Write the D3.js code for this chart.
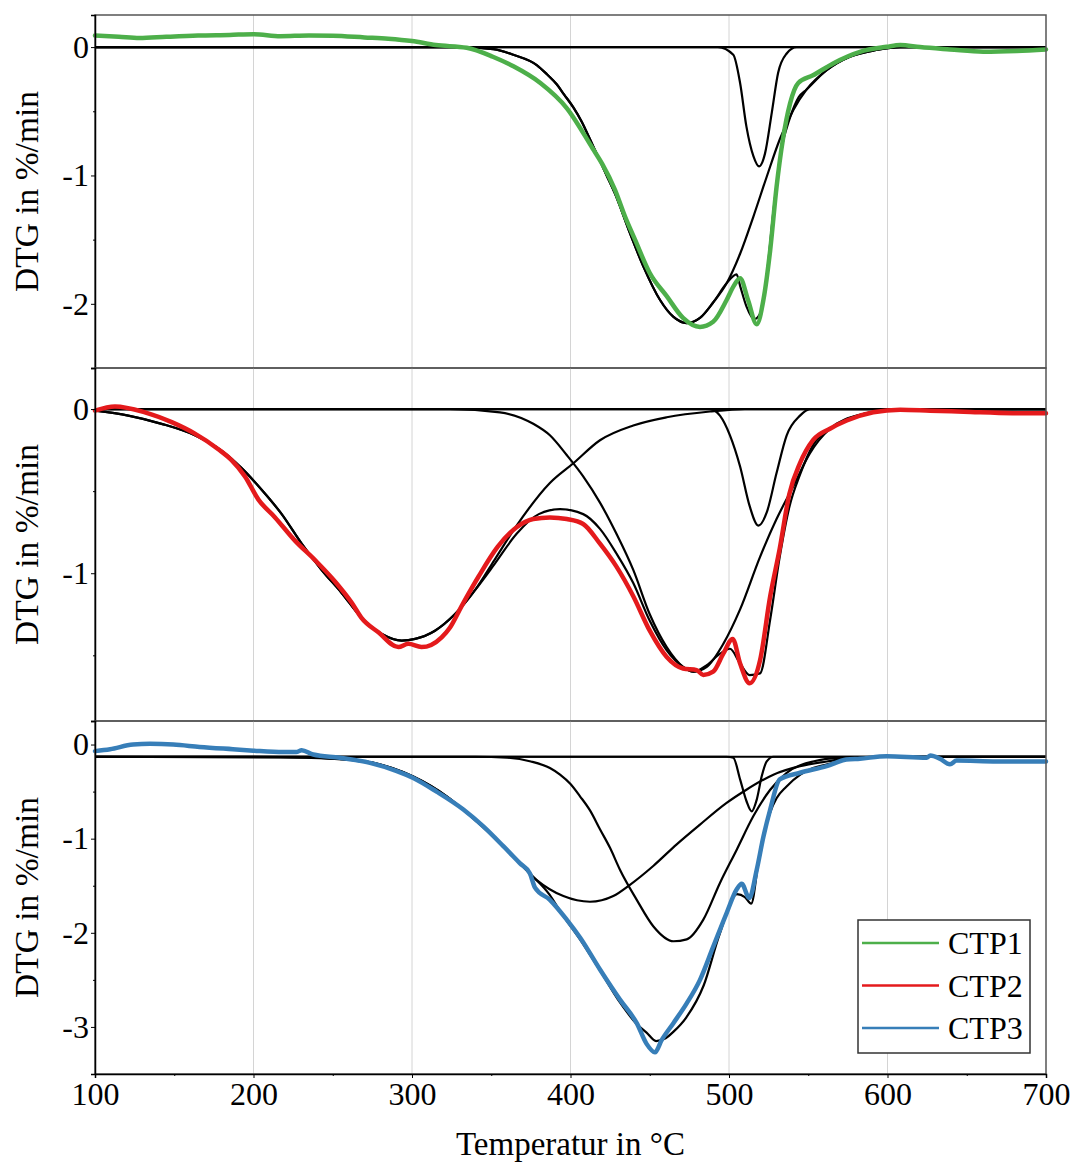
<html>
<head>
  <title>DTG CTP</title>
  <script src="https://d3js.org/d3.v7.min.js"></script>
  <style type="text/css">
    body { margin: 0; background: #fff; }
    text { font-family: "Liberation Serif", "Times New Roman", serif; fill: #000; }
  </style>
</head>
<body>
  <svg id="chart" width="1077" height="1164"></svg>

  <script type="text/javascript">

    // measured curves, [temperature, DTG]
    var ctp1 = [[100,0.09],[115,0.08],[128,0.07],[145,0.08],[165,0.09],[185,0.095],[200,0.10],[217,0.085],[235,0.09],[250,0.088],[270,0.075],[285,0.065],[300,0.047],[315,0.016],[334.5,-0.005],[351,-0.075],[364,-0.15],[381,-0.28],[397.6,-0.475],[414,-0.79],[420,-0.91],[428,-1.11],[434.4,-1.32],[440.7,-1.5],[450,-1.76],[460.7,-1.94],[471,-2.11],[481.7,-2.18],[490,-2.14],[498.5,-1.97],[503,-1.86],[507,-1.8],[512,-1.97],[517.5,-2.16],[521.7,-1.97],[526,-1.58],[530,-1.09],[534,-0.72],[538.5,-0.44],[543.7,-0.28],[553,-0.22],[566,-0.125],[582.6,-0.037],[599.5,0.002],[608,0.016],[620.5,0],[639.4,-0.018],[660.4,-0.036],[681.5,-0.03],[700,-0.018]];
    var ctp2 = [[100,-0.01],[112.6,0.016],[131.5,-0.02],[148.4,-0.08],[163,-0.15],[177.8,-0.245],[186,-0.31],[194.6,-0.41],[203,-0.55],[213.6,-0.66],[226,-0.8],[238.8,-0.92],[251.4,-1.05],[262,-1.18],[268,-1.27],[278.8,-1.36],[291.4,-1.45],[297.7,-1.43],[306,-1.45],[318.7,-1.39],[324,-1.33],[331.3,-1.2],[342,-1.02],[354,-0.84],[366,-0.72],[376.5,-0.67],[387,-0.66],[397.6,-0.67],[408,-0.7],[418.6,-0.82],[429,-0.96],[439.6,-1.14],[450,-1.35],[460.7,-1.51],[471,-1.58],[479.6,-1.59],[483.8,-1.62],[490,-1.6],[496.4,-1.49],[502.3,-1.4],[507,-1.55],[513,-1.67],[519.6,-1.53],[526,-1.14],[532,-0.85],[538,-0.52],[544.8,-0.33],[553,-0.19],[563.7,-0.12],[574.3,-0.07],[591,-0.02],[608,-0.004],[627,-0.01],[648,-0.016],[679,-0.025],[700,-0.026]];
    var ctp3 = [[100,-0.07],[109.5,-0.05],[124,0],[134.7,0.007],[149.4,0],[166,-0.025],[187,-0.05],[200,-0.065],[218.8,-0.08],[227,-0.08],[230.4,-0.06],[237.7,-0.106],[254.6,-0.14],[273.5,-0.195],[290,-0.28],[300.8,-0.355],[315.5,-0.5],[332.4,-0.69],[345,-0.87],[357.6,-1.08],[368,-1.26],[374.4,-1.37],[377.6,-1.52],[387,-1.65],[397.6,-1.86],[406,-2.05],[418.6,-2.39],[431.2,-2.71],[441.8,-2.96],[448,-3.18],[453.3,-3.27],[457.5,-3.14],[464.9,-2.96],[473.3,-2.75],[481.7,-2.5],[490,-2.15],[498.5,-1.79],[504.8,-1.54],[508,-1.48],[512.8,-1.63],[517.5,-1.33],[521.7,-0.98],[526,-0.69],[532,-0.37],[544.8,-0.3],[561.6,-0.23],[574,-0.16],[582.6,-0.15],[599.5,-0.125],[624.7,-0.14],[627,-0.117],[633,-0.15],[639.4,-0.21],[643.6,-0.17],[669,-0.18],[700,-0.18]];

    // fitted peaks (black)
    var ctp1Base = [[100,0],[700,0]];
    var ctp1Broad = [[100,0],[330,0],[351.3,-0.016],[364,-0.06],[378.7,-0.14],[385,-0.21],[391.3,-0.29],[396,-0.37],[401.8,-0.47],[407,-0.58],[412,-0.71],[422.8,-1.0],[428,-1.14],[437.5,-1.45],[446,-1.71],[456.5,-1.97],[464.8,-2.1],[473.3,-2.15],[481.7,-2.11],[490,-1.99],[498.5,-1.84],[507,-1.61],[515.4,-1.32],[523.8,-1.01],[532,-0.72],[540.6,-0.49],[549,-0.33],[561.6,-0.18],[576.3,-0.075],[593,-0.023],[608,0],[700,0]];
    var ctp1Narrow = [[100,0],[493,0],[502.7,-0.06],[507,-0.28],[511,-0.62],[515.4,-0.85],[519,-0.93],[522.7,-0.83],[527,-0.51],[531,-0.2],[536.4,-0.05],[542.7,0],[700,0]];
    var ctp1Sum = [[100,0],[330,0],[351.3,-0.016],[364,-0.06],[378.7,-0.14],[385,-0.21],[391.3,-0.29],[396,-0.37],[401.8,-0.47],[407,-0.58],[412,-0.71],[422.8,-1.0],[428,-1.14],[437.5,-1.45],[446,-1.71],[456.5,-1.97],[464.8,-2.1],[473.3,-2.15],[481.7,-2.11],[490,-1.99],[498.5,-1.84],[504.8,-1.77],[507,-1.86],[511,-2.02],[516,-2.12],[519.5,-2.08],[523.8,-1.78],[528,-1.28],[533,-0.8],[538.5,-0.55],[544,-0.39],[549,-0.33],[561.6,-0.18],[576.3,-0.075],[593,-0.023],[608,0],[700,0]];

    var ctp2Base = [[100,0],[700,0]];
    var ctp2Peak1 = [[100,-0.01],[121,-0.04],[142,-0.09],[163,-0.16],[180,-0.255],[192.5,-0.36],[205,-0.49],[217.8,-0.64],[230.4,-0.82],[243,-0.98],[255.6,-1.12],[268,-1.27],[281,-1.37],[293.5,-1.41],[302,-1.4],[314.5,-1.35],[327,-1.25],[340,-1.1],[352,-0.92],[366,-0.71],[387,-0.45],[401.8,-0.33],[418.6,-0.19],[439.6,-0.1],[460.7,-0.05],[488,-0.015],[510,0],[700,0]];
    var ctp2Peak2 = [[100,0],[324,0],[355.5,-0.02],[376.5,-0.09],[387,-0.16],[397.6,-0.28],[408,-0.41],[418.6,-0.57],[429,-0.76],[439.6,-0.98],[450,-1.25],[460.7,-1.45],[471,-1.57],[477.5,-1.6],[486,-1.57],[496.4,-1.43],[507,-1.22],[519.6,-0.9],[530,-0.67],[540.6,-0.47],[551,-0.27],[563.7,-0.12],[584.6,-0.03],[599.5,-0.01],[620,0],[700,0]];
    var ctp2Peak3 = [[100,0],[488,0],[494.3,-0.04],[500.6,-0.16],[507,-0.35],[513,-0.59],[518.5,-0.71],[523.8,-0.63],[530,-0.39],[536.4,-0.16],[544.8,-0.04],[551,0],[700,0]];
    var ctp2Sum = [[100,-0.01],[121,-0.04],[142,-0.09],[163,-0.16],[180,-0.255],[192.5,-0.36],[205,-0.49],[217.8,-0.64],[230.4,-0.82],[243,-0.98],[255.6,-1.12],[268,-1.27],[281,-1.37],[293.5,-1.41],[302,-1.4],[314.5,-1.35],[327,-1.25],[340,-1.1],[352.4,-0.94],[366,-0.76],[380,-0.64],[393.4,-0.61],[408,-0.64],[418.6,-0.73],[429,-0.88],[439.6,-1.06],[450,-1.29],[460.7,-1.47],[471,-1.57],[477.5,-1.6],[486,-1.56],[494.3,-1.49],[500.6,-1.46],[507,-1.55],[513,-1.62],[519.6,-1.61],[526,-1.28],[532,-0.9],[538,-0.6],[544.8,-0.4],[553,-0.22],[563.7,-0.12],[584.6,-0.03],[600,-0.01],[700,0]];

    var ctp3Base = [[100,-0.13],[700,-0.13]];
    var ctp3PeakA = [[100,-0.13],[200,-0.13],[233.6,-0.14],[269,-0.177],[300.8,-0.34],[321.9,-0.55],[343,-0.85],[364,-1.19],[378.7,-1.44],[395.5,-1.61],[412.3,-1.67],[427,-1.61],[437.5,-1.49],[452.2,-1.29],[467,-1.06],[481.7,-0.85],[498.5,-0.62],[511,-0.48],[528,-0.32],[544.8,-0.23],[561.6,-0.18],[578.4,-0.14],[600,-0.13],[700,-0.13]];
    var ctp3PeakB = [[100,-0.13],[340,-0.13],[360,-0.14],[375,-0.18],[387,-0.25],[393.4,-0.32],[400,-0.42],[406,-0.55],[412.3,-0.7],[418.6,-0.9],[425,-1.1],[431.2,-1.33],[441.8,-1.65],[452.2,-1.93],[465,-2.09],[473.3,-2.07],[483.8,-1.86],[494.3,-1.47],[504.8,-1.12],[515.4,-0.76],[526,-0.48],[536.4,-0.3],[553,-0.18],[572,-0.14],[600,-0.13],[700,-0.13]];
    var ctp3PeakC = [[100,-0.13],[498.5,-0.13],[502.7,-0.14],[507,-0.37],[511,-0.6],[514.3,-0.71],[517.5,-0.585],[520.6,-0.34],[523.8,-0.18],[528,-0.13],[700,-0.13]];
    var ctp3Sum = [[100,-0.13],[233.6,-0.14],[269,-0.177],[300.8,-0.34],[321.9,-0.55],[343,-0.85],[364,-1.19],[374.4,-1.37],[387,-1.6],[393.4,-1.77],[406,-2.07],[418.6,-2.4],[431.2,-2.74],[441.8,-2.97],[448,-3.06],[454,-3.15],[460,-3.12],[465,-3.05],[473,-2.9],[484,-2.56],[494,-2.02],[505,-1.59],[510,-1.62],[514,-1.69],[519,-1.2],[526,-0.72],[530,-0.57],[536,-0.45],[545,-0.32],[553,-0.25],[562,-0.21],[578,-0.15],[600,-0.13],[700,-0.13]];

    var seriesNames = ["CTP1", "CTP2", "CTP3"];
    var seriesColors = ["#4daf4a", "#e41a1c", "#377eb8"];

    var xTicks = [100, 200, 300, 400, 500, 600, 700];
    var xMinorTicks = [150, 250, 350, 450, 550, 650];
    var gridTicks = [200, 300, 400, 500, 600];

    var yDomain1 = [-2.5, 0.25], yTicks1 = [0, -1, -2], yMinor1 = [-0.5, -1.5, -2.5];
    var yDomain2 = [-1.9, 0.25], yTicks2 = [0, -1], yMinor2 = [-0.5, -1.5];
    var yDomain3 = [-3.5, 0.25], yTicks3 = [0, -1, -2, -3], yMinor3 = [-0.5, -1.5, -2.5, -3.5];

    var left = 95, right = 1046, panelH = 353;
    var panelTops = [15, 368, 721];
    var serif = "Liberation Serif, Times New Roman, serif";

    var panels = [
      {data: ctp1, fits: [ctp1Base, ctp1Broad, ctp1Narrow, ctp1Sum], domain: yDomain1, ticks: yTicks1, minor: yMinor1},
      {data: ctp2, fits: [ctp2Base, ctp2Peak1, ctp2Peak2, ctp2Peak3, ctp2Sum], domain: yDomain2, ticks: yTicks2, minor: yMinor2},
      {data: ctp3, fits: [ctp3Base, ctp3PeakA, ctp3PeakB, ctp3PeakC, ctp3Sum], domain: yDomain3, ticks: yTicks3, minor: yMinor3}
    ];

    var svg = d3.select("#chart");

    var x = d3.scaleLinear()
      .domain([100, 700])
      .range([left, right]);

    panels.forEach(function(p, i) {
      var top = panelTops[i];
      var y = d3.scaleLinear()
        .domain(p.domain)
        .range([top + panelH, top]);

      var line = d3.line()
        .x(function(d) { return x(d[0]); })
        .y(function(d) { return y(d[1]); })
        .curve(d3.curveMonotoneX);

      var g = svg.append("g");

      g.selectAll(".grid")
        .data(gridTicks)
        .enter().append("line")
        .attr("x1", function(d) { return x(d); })
        .attr("x2", function(d) { return x(d); })
        .attr("y1", top)
        .attr("y2", top + panelH)
        .attr("stroke", "#d4d4d4")
        .attr("stroke-width", 1);

      g.selectAll(".fit")
        .data(p.fits)
        .enter().append("path")
        .attr("d", line)
        .attr("fill", "none")
        .attr("stroke", "#000")
        .attr("stroke-width", 2.2);

      g.append("path")
        .datum(p.data)
        .attr("d", line)
        .attr("fill", "none")
        .attr("stroke", seriesColors[i])
        .attr("stroke-width", 4.5)
        .attr("stroke-linejoin", "round")
        .attr("stroke-linecap", "round");

      // frame
      g.append("rect")
        .attr("x", left)
        .attr("y", top)
        .attr("width", right - left)
        .attr("height", panelH)
        .attr("fill", "none")
        .attr("stroke", "#555")
        .attr("stroke-width", 1.5);

      var yAxis = g.append("g")
        .attr("transform", "translate(" + left + ",0)")
        .call(d3.axisLeft(y)
          .tickValues(p.ticks)
          .tickSize(4)
          .tickPadding(2)
          .tickFormat(function(d) { return String(d); }))
        .attr("font-family", serif)
        .attr("font-size", 32);
      yAxis.select(".domain").attr("stroke", "#000").attr("stroke-width", 1.5);

      var yMinorAxis = g.append("g")
        .attr("transform", "translate(" + left + ",0)")
        .call(d3.axisLeft(y).tickValues(p.minor).tickSize(2).tickFormat(""));
      yMinorAxis.select(".domain").remove();

      g.append("text")
        .attr("transform", "translate(38," + (top + panelH / 2) + ") rotate(-90)")
        .attr("text-anchor", "middle")
        .style("font-size", "33.5px")
        .text("DTG in %/min");
    });

    var bottom = panelTops[2] + panelH;

    var xAxis = svg.append("g")
      .attr("transform", "translate(0," + bottom + ")")
      .call(d3.axisBottom(x)
        .tickValues(xTicks)
        .tickSize(4)
        .tickPadding(4)
        .tickFormat(function(d) { return String(d); }))
      .attr("font-family", serif)
      .attr("font-size", 32);
    xAxis.select(".domain").attr("stroke", "#000").attr("stroke-width", 1.5);

    var xMinorAxis = svg.append("g")
      .attr("transform", "translate(0," + bottom + ")")
      .call(d3.axisBottom(x).tickValues(xMinorTicks).tickSize(2).tickFormat(""));
    xMinorAxis.select(".domain").remove();

    svg.append("text")
      .attr("x", (left + right) / 2)
      .attr("y", 1155)
      .attr("text-anchor", "middle")
      .style("font-size", "33px")
      .text("Temperatur in \u00B0C");

    // legend
    var legend = svg.append("g");
    legend.append("rect")
      .attr("x", 858)
      .attr("y", 920)
      .attr("width", 172)
      .attr("height", 133)
      .attr("fill", "#fff")
      .attr("stroke", "#333")
      .attr("stroke-width", 1.5);

    var items = legend.selectAll(".item")
      .data(seriesNames)
      .enter().append("g")
      .attr("transform", function(d, i) { return "translate(0," + (943 + i * 42.5) + ")"; });

    items.append("line")
      .attr("x1", 862)
      .attr("x2", 939)
      .attr("stroke", function(d, i) { return seriesColors[i]; })
      .attr("stroke-width", 2.5);

    items.append("text")
      .attr("x", 948)
      .attr("y", 11)
      .style("font-size", "32px")
      .text(function(d) { return d; });

  </script>
</body>
</html>
